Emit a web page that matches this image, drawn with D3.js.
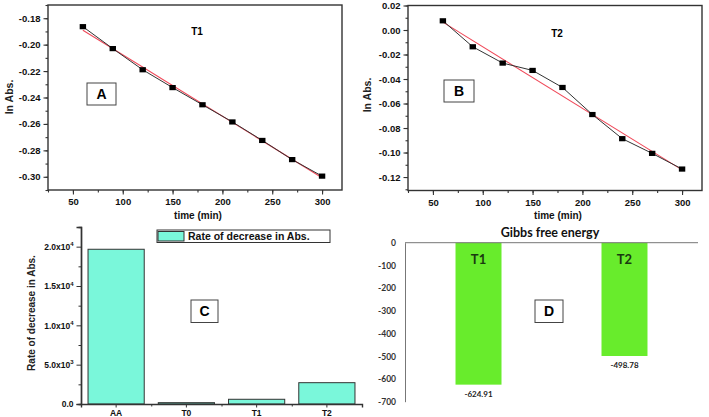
<!DOCTYPE html>
<html>
<head>
<meta charset="utf-8">
<script src="https://cdn.jsdelivr.net/npm/d3@7"></script>
<style>
  body { margin: 0; background: #fff; }
  svg { display: block; font-family: "Liberation Sans", Arial, sans-serif; }
</style>
</head>
<body>
<div id="chart"></div>
<script>
// data
const timeMin = [60, 90, 120, 150, 180, 210, 240, 270, 300]
const lnAbsT1 = [-0.1864, -0.2030, -0.2190, -0.2325, -0.2455, -0.2585, -0.2725, -0.2870, -0.2995]
const lnAbsT2 = [0.0075, -0.0137, -0.0270, -0.0330, -0.0469, -0.0690, -0.0887, -0.1007, -0.1135]

const rateCats = ['AA', 'T0', 'T1', 'T2']
const rateVals = [19670, 170, 600, 2710]

const gibbsCats = ['T1', 'T2']
const gibbsVals = [-624.91, -498.78]

// plain hyphen for negatives, like the original
d3.formatDefaultLocale({ decimal: '.', thousands: ',', grouping: [3], currency: ['$', ''], minus: '-' })

const svg = d3.select('#chart').append('svg')
  .attr('width', 709)
  .attr('height', 417)

const axisCol = '#333'

// least squares fit, used for the red line
const fit = (xs, ys) => {
  const mx = d3.mean(xs), my = d3.mean(ys)
  const sxy = d3.sum(xs, (x, i) => (x - mx) * (ys[i] - my))
  const sxx = d3.sum(xs, x => (x - mx) * (x - mx))
  const b = sxy / sxx
  return x => my + b * (x - mx)
}

const linePanel = (opt) => {
  const { x, y, ys, title, titlePos, box, ylab, yTicks, yMinor } = opt
  const g = svg.append('g')
  const [x0, x1] = x.range()
  const [y1, y0] = y.range()

  // frame
  g.append('rect')
    .attr('x', x0).attr('y', y0)
    .attr('width', x1 - x0).attr('height', y1 - y0)
    .attr('fill', 'none').attr('stroke', axisCol).attr('stroke-width', 1.4)

  // minor ticks
  g.append('g').attr('transform', `translate(${x0},0)`)
    .call(d3.axisLeft(y).tickValues(yMinor).tickSize(2.5).tickFormat(''))
  g.append('g').attr('transform', `translate(0,${y1})`)
    .call(d3.axisBottom(x).tickValues(d3.range(25, 325, 25)).tickSize(2.5).tickFormat(''))

  // major ticks
  g.append('g').attr('transform', `translate(${x0},0)`)
    .call(d3.axisLeft(y).tickValues(yTicks).tickSize(4.5).tickPadding(3).tickFormat(d3.format('.2f')))
  g.append('g').attr('transform', `translate(0,${y1})`)
    .call(d3.axisBottom(x).tickValues([50, 100, 150, 200, 250, 300]).tickSize(4.5).tickPadding(4))

  g.selectAll('.domain').remove()
  g.selectAll('.tick line').attr('stroke', axisCol).attr('stroke-width', 1.1)
  g.selectAll('.tick text')
    .attr('font-size', 9.5).attr('font-weight', 'bold').attr('fill', '#111')
    .attr('font-family', '"Liberation Sans", Arial, sans-serif')

  // fit line
  const f = fit(timeMin, ys)
  const xe = d3.extent(timeMin)
  g.append('line')
    .attr('x1', x(xe[0])).attr('y1', y(f(xe[0])))
    .attr('x2', x(xe[1])).attr('y2', y(f(xe[1])))
    .attr('stroke', '#f04a5a').attr('stroke-width', 1.1)

  // data line + markers
  g.append('path')
    .datum(timeMin.map((t, i) => [t, ys[i]]))
    .attr('d', d3.line().x(d => x(d[0])).y(d => y(d[1])))
    .attr('fill', 'none').attr('stroke', '#333').attr('stroke-width', 1)

  g.selectAll('rect.pt')
    .data(timeMin.map((t, i) => [t, ys[i]]))
    .enter().append('rect')
    .attr('class', 'pt')
    .attr('x', d => x(d[0]) - 3.2).attr('y', d => y(d[1]) - 2.6)
    .attr('width', 6.4).attr('height', 5.2)
    .attr('fill', '#000')

  g.append('text')
    .attr('x', titlePos[0]).attr('y', titlePos[1])
    .attr('text-anchor', 'middle').attr('dy', '0.35em')
    .attr('font-size', 10).attr('font-weight', 'bold')
    .text(title)

  g.append('rect')
    .attr('x', box[0]).attr('y', box[1]).attr('width', box[2]).attr('height', box[3])
    .attr('fill', '#fff').attr('stroke', '#444').attr('stroke-width', 1)
  g.append('text')
    .attr('x', box[0] + box[2] / 2).attr('y', box[1] + box[3] / 2)
    .attr('text-anchor', 'middle').attr('dy', '0.36em')
    .attr('font-size', 14).attr('font-weight', 'bold')
    .text(box[4])

  g.append('text')
    .attr('transform', `translate(${ylab[0]},${ylab[1]}) rotate(-90)`)
    .attr('text-anchor', 'middle').attr('dy', '0.35em')
    .attr('font-size', 10.5).attr('font-weight', 'bold').attr('fill', '#222')
    .text('ln Abs.')

  g.append('text')
    .attr('x', (x0 + x1) / 2 + 3).attr('y', 215)
    .attr('text-anchor', 'middle').attr('dy', '0.35em')
    .attr('font-size', 10).attr('font-weight', 'bold').attr('fill', '#111')
    .text('time (min)')
}

// panel A
linePanel({
  x: d3.scaleLinear().domain([25, 320]).range([48, 342]),
  y: d3.scaleLinear().domain([-0.31, -0.17]).range([190, 5]),
  ys: lnAbsT1,
  title: 'T1', titlePos: [197, 31],
  box: [87, 83, 29, 22, 'A'],
  ylab: [9, 97],
  yTicks: d3.range(-0.30, -0.17, 0.02),
  yMinor: d3.range(-0.31, -0.169, 0.01)
})

// panel B
linePanel({
  x: d3.scaleLinear().domain([25, 320]).range([408, 702]),
  y: d3.scaleLinear().domain([-0.131, 0.02]).range([190.5, 5.5]),
  ys: lnAbsT2,
  title: 'T2', titlePos: [557, 33],
  box: [444, 80, 30, 22, 'B'],
  ylab: [367, 95],
  yTicks: d3.range(-0.12, 0.021, 0.02),
  yMinor: d3.range(-0.13, 0.021, 0.01)
})

// panel C : rate of decrease
{
  const g = svg.append('g')
  const x = d3.scaleBand().domain(rateCats).range([81, 362]).paddingInner(0.2).paddingOuter(0.1)
  const y = d3.scaleLinear().domain([0, 22500]).range([404, 227])

  g.selectAll('rect.bar')
    .data(rateCats)
    .enter().append('rect')
    .attr('class', 'bar')
    .attr('x', d => x(d))
    .attr('y', (d, i) => y(rateVals[i]))
    .attr('width', x.bandwidth())
    .attr('height', (d, i) => y(0) - y(rateVals[i]))
    .attr('fill', '#7af7da').attr('stroke', '#333').attr('stroke-width', 1)

  g.append('g').attr('transform', 'translate(81,0)')
    .call(d3.axisLeft(y).tickValues(d3.range(2500, 22500, 5000)).tickSize(2.5).tickFormat(''))
  const yAx = g.append('g').attr('transform', 'translate(81,0)')
    .call(d3.axisLeft(y).tickValues([0, 5000, 10000, 15000, 20000]).tickSize(4.5).tickPadding(3).tickFormat(''))
  const sup = { 0: ['0.0', null], 5000: ['5.0x10', '3'], 10000: ['1.0x10', '4'], 15000: ['1.5x10', '4'], 20000: ['2.0x10', '4'] }
  yAx.selectAll('.tick text').each(function (d) {
    const t = d3.select(this)
    t.append('tspan').text(sup[d][0])
    if (sup[d][1]) t.append('tspan').attr('font-size', 6).attr('dy', '-0.6em').text(sup[d][1])
  })

  g.append('g').attr('transform', 'translate(0,404)')
    .call(d3.axisBottom(x).tickSize(3.5).tickPadding(2))
  g.append('g').attr('transform', 'translate(0,404)')
    .call(d3.axisBottom(d3.scaleLinear().domain([0, 4]).range([81, 362])).tickValues([1, 2, 3]).tickSize(2.5).tickFormat(''))
    .select('.domain').remove()

  g.selectAll('.domain').attr('stroke', axisCol).attr('stroke-width', 1.4)
  g.selectAll('.tick line').attr('stroke', axisCol)
  g.selectAll('.tick text')
    .attr('font-size', 8.5).attr('font-weight', 'bold').attr('fill', '#111')
    .attr('font-family', '"Liberation Sans", Arial, sans-serif')

  // legend
  g.append('rect').attr('x', 157).attr('y', 230).attr('width', 173).attr('height', 12.5)
    .attr('fill', '#fff').attr('stroke', '#333').attr('stroke-width', 1)
  g.append('rect').attr('x', 158).attr('y', 231.5).attr('width', 26).attr('height', 9.5)
    .attr('fill', '#7af7da').attr('stroke', '#333').attr('stroke-width', 1)
  g.append('text').attr('x', 188).attr('y', 236.5).attr('dy', '0.36em')
    .attr('font-size', 10.5).attr('font-weight', 'bold').attr('fill', '#111')
    .text('Rate of decrease in Abs.')

  g.append('rect').attr('x', 191).attr('y', 300).attr('width', 27).attr('height', 22.5)
    .attr('fill', '#fff').attr('stroke', '#444')
  g.append('text').attr('x', 204.5).attr('y', 311.3).attr('dy', '0.36em')
    .attr('text-anchor', 'middle').attr('font-size', 14).attr('font-weight', 'bold')
    .text('C')

  g.append('text')
    .attr('transform', 'translate(31,313) rotate(-90)')
    .attr('text-anchor', 'middle').attr('dy', '0.35em')
    .attr('font-size', 10).attr('font-weight', 'bold').attr('fill', '#222')
    .text('Rate of decrease in Abs.')
}

// panel D : Gibbs free energy
{
  const g = svg.append('g').attr('font-family', 'Lato, "Open Sans", sans-serif')
  const x = d3.scaleBand().domain(gibbsCats).range([405, 698]).paddingInner(0.685).paddingOuter(0.346)
  const y = d3.scaleLinear().domain([-700, 0]).range([401.7, 242.7])

  g.selectAll('rect.bar')
    .data(gibbsCats)
    .enter().append('rect')
    .attr('class', 'bar')
    .attr('x', d => x(d))
    .attr('y', y(0))
    .attr('width', x.bandwidth())
    .attr('height', (d, i) => y(gibbsVals[i]) - y(0))
    .attr('fill', '#68ec2c')

  const yAx = g.append('g').attr('transform', 'translate(405,0)')
    .call(d3.axisLeft(y).ticks(7).tickSize(0).tickPadding(9).tickFormat(d3.format('d')))
  yAx.select('.domain').attr('stroke', '#777').attr('stroke-width', 1)
  yAx.selectAll('.tick text')
    .attr('font-size', 8.5).attr('font-weight', 'bold').attr('fill', '#333')
    .attr('font-family', 'Lato, "Open Sans", sans-serif')

  g.append('line').attr('x1', 405).attr('x2', 698).attr('y1', y(0)).attr('y2', y(0))
    .attr('stroke', '#777').attr('stroke-width', 1)

  g.selectAll('text.cat')
    .data(gibbsCats)
    .enter().append('text')
    .attr('class', 'cat')
    .attr('x', d => x(d) + x.bandwidth() / 2).attr('y', 259)
    .attr('text-anchor', 'middle').attr('dy', '0.36em')
    .attr('font-size', 13).attr('font-weight', 'bold').attr('fill', '#1a3a10')
    .text(d => d)

  g.selectAll('text.val')
    .data(gibbsCats)
    .enter().append('text')
    .attr('class', 'val')
    .attr('x', d => x(d) + x.bandwidth() / 2)
    .attr('y', (d, i) => y(gibbsVals[i]) + 9)
    .attr('text-anchor', 'middle').attr('dy', '0.36em')
    .attr('font-size', 8).attr('font-weight', 'bold').attr('fill', '#222')
    .text((d, i) => d3.format('.2f')(gibbsVals[i]))

  g.append('text').attr('x', 550).attr('y', 232).attr('dy', '0.36em')
    .attr('text-anchor', 'middle').attr('font-size', 12.5).attr('font-weight', 'bold').attr('fill', '#111')
    .text('Gibbs free energy')

  g.append('rect').attr('x', 535).attr('y', 300).attr('width', 28).attr('height', 22.5)
    .attr('fill', '#fff').attr('stroke', '#444')
  g.append('text').attr('x', 549).attr('y', 311.3).attr('dy', '0.36em')
    .attr('text-anchor', 'middle').attr('font-size', 14).attr('font-weight', 'bold')
    .attr('font-family', '"Liberation Sans", Arial, sans-serif')
    .text('D')
}
</script>
</body>
</html>
